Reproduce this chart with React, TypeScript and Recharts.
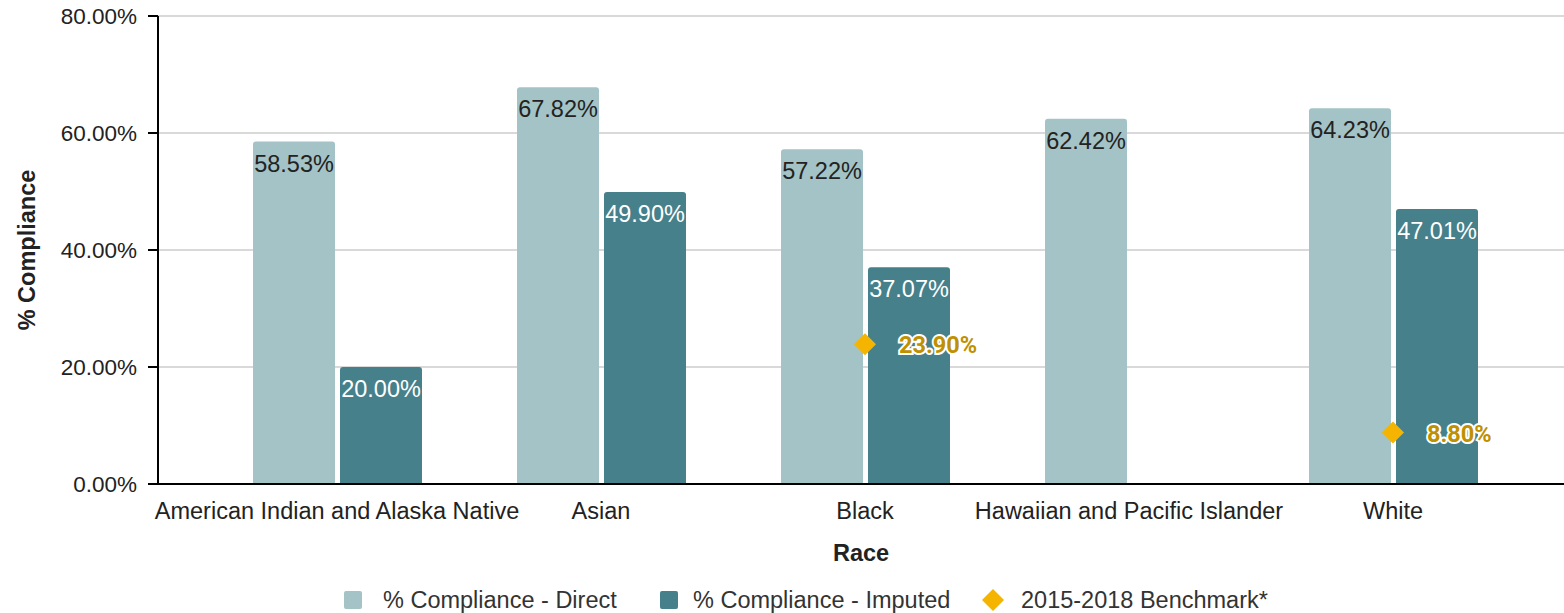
import {
  ComposedChart,
  Bar,
  Line,
  XAxis,
  YAxis,
  CartesianGrid,
  Legend,
  LabelList,
  Label,
} from "recharts";

const races = [
  "American Indian and Alaska Native",
  "Asian",
  "Black",
  "Hawaiian and Pacific Islander",
  "White",
];
const direct = [58.53, 67.82, 57.22, 62.42, 64.23];
const imputed: (number | null)[] = [20.0, 49.9, 37.07, null, 47.01];
const benchmark: (number | null)[] = [null, null, 23.9, null, 8.8];
const yTicks = [0, 20, 40, 60, 80];

const LIGHT = "#a3c3c6";
const DARK = "#46808b";
const GOLD = "#f4b400";
const GOLD_TEXT = "#bf9000";
const FONT = "'Liberation Sans', Arial, sans-serif";
const FS = 23.5;

const data = races.map((race, i) => ({
  race,
  direct: direct[i],
  imputed: imputed[i],
  benchmark: benchmark[i],
}));

const fmt = (v: number) => `${v.toFixed(2)}%`;

// label drawn inside the top of each bar
const barLabel = (color: string) => (props: any) => {
  const { x, y, width, value } = props;
  if (value == null) return null;
  return (
    <text
      x={x + width / 2}
      y={y + 22}
      textAnchor="middle"
      dominantBaseline="central"
      fill={color}
      fontSize={FS}
      fontFamily={FONT}
    >
      {fmt(value)}
    </text>
  );
};

const Diamond = (props: any) => {
  const { cx, cy, value } = props;
  if (value == null || cx == null || cy == null) return null;
  const r = 11;
  return (
    <path
      key={`d-${cx}`}
      d={`M${cx},${cy - r}L${cx + r},${cy}L${cx},${cy + r}L${cx - r},${cy}Z`}
      fill={GOLD}
    />
  );
};

const benchLabel = (props: any) => {
  const { x, y, value } = props;
  if (value == null) return null;
  return (
    <text
      x={x + 34}
      y={y + 1}
      dominantBaseline="central"
      fill={GOLD_TEXT}
      stroke="#fff"
      strokeWidth={4}
      paintOrder="stroke"
      fontSize={FS}
      fontWeight="bold"
      fontFamily="Roboto, sans-serif"
    >
      {fmt(value)}
    </text>
  );
};

const LegendContent = () => {
  const txt = { fontSize: FS, color: "#333", fontFamily: FONT, position: "absolute" as const, top: 0, lineHeight: "26px" };
  const sq = (left: number, color: string) => (
    <div style={{ position: "absolute", left, top: 4, width: 18, height: 18, background: color, borderRadius: 2 }} />
  );
  return (
    <div style={{ position: "relative", height: 26, marginTop: 13 }}>
      {sq(344, LIGHT)}
      <span style={{ ...txt, left: 383 }}>% Compliance - Direct</span>
      {sq(660, DARK)}
      <span style={{ ...txt, left: 693 }}>% Compliance - Imputed</span>
      <svg width={22} height={22} style={{ position: "absolute", left: 982, top: 2 }}>
        <path d="M11,0L22,11L11,22L0,11Z" fill={GOLD} />
      </svg>
      <span style={{ ...txt, left: 1021 }}>2015-2018 Benchmark*</span>
    </div>
  );
};

export default function App() {
  return (
    <div style={{ position: "absolute", left: 0, top: 0, background: "#fff" }}>
      <ComposedChart
        width={1564}
        height={613}
        data={data}
        margin={{ top: 16, right: 0, bottom: 0, left: 0 }}
        barSize={82}
        barGap={5}
      >
        <CartesianGrid vertical={false} stroke="#cccccc" strokeWidth={1.5} />
        <XAxis
          dataKey="race"
          padding={{ left: 47, right: 39 }}
          height={90}
          tickLine={false}
          axisLine={{ stroke: "#000", strokeWidth: 2 }}
          interval={0}
          tick={{ fontSize: FS, fill: "#222", fontFamily: FONT, dy: 10 }}
        >
          <Label
            value="Race"
            position="insideBottom"
            offset={13}
            style={{ fontSize: FS, fontWeight: "bold", fill: "#222", fontFamily: FONT }}
          />
        </XAxis>
        <YAxis
          width={158}
          domain={[0, 80]}
          ticks={yTicks}
          tickFormatter={(v) => fmt(v)}
          axisLine={{ stroke: "#000", strokeWidth: 2 }}
          tickLine={{ stroke: "#000", strokeWidth: 2 }}
          tickSize={10}
          tickMargin={11}
          tick={{ fontSize: 22.5, fill: "#222", fontFamily: FONT }}
        >
          <Label
            value="% Compliance"
            angle={-90}
            position="insideLeft"
            offset={27}
            style={{
              fontSize: FS,
              fontWeight: "bold",
              fill: "#222",
              fontFamily: FONT,
              textAnchor: "middle",
            }}
          />
        </YAxis>
        <Legend
          verticalAlign="bottom"
          height={39}
          content={<LegendContent />}
          wrapperStyle={{ left: 0, width: 1564 }}
        />
        <Bar
          dataKey="direct"
          name="% Compliance - Direct"
          fill={LIGHT}
          radius={[3, 3, 0, 0]}
          isAnimationActive={false}
        >
          <LabelList dataKey="direct" content={barLabel("#222")} />
        </Bar>
        <Bar
          dataKey="imputed"
          name="% Compliance - Imputed"
          fill={DARK}
          radius={[3, 3, 0, 0]}
          isAnimationActive={false}
        >
          <LabelList dataKey="imputed" content={barLabel("#fff")} />
        </Bar>
        <Line
          dataKey="benchmark"
          name="2015-2018 Benchmark*"
          stroke="none"
          dot={<Diamond />}
          activeDot={false}
          connectNulls={false}
          isAnimationActive={false}
        >
          <LabelList dataKey="benchmark" content={benchLabel} />
        </Line>
      </ComposedChart>
    </div>
  );
}
